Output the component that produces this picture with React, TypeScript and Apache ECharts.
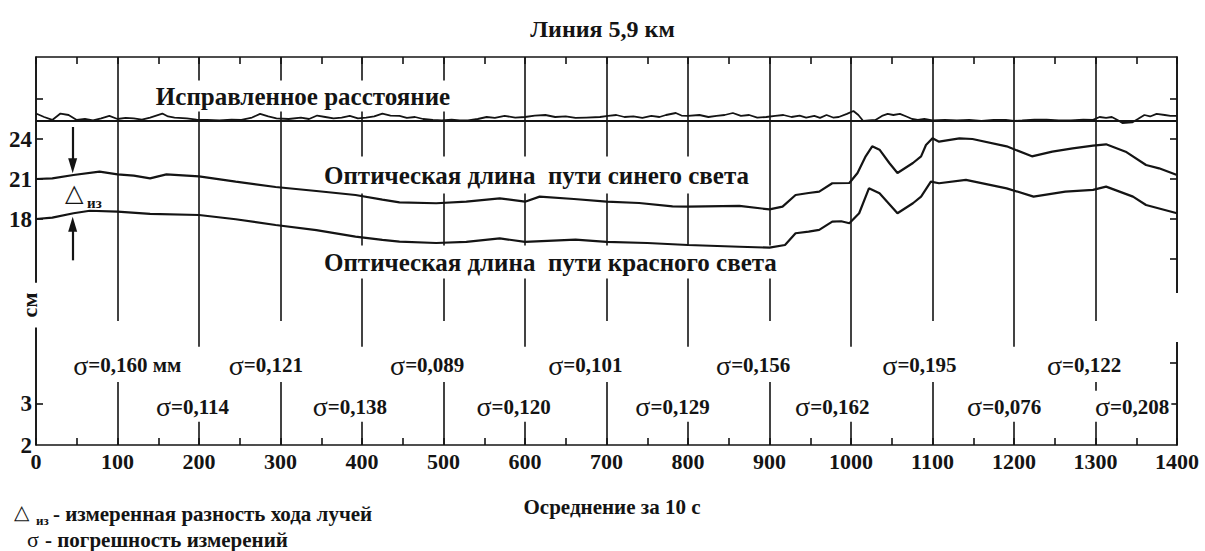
import { useEffect, useRef } from 'react';
import * as echarts from 'echarts';

const SERIF = '"Liberation Serif", "Times New Roman", serif';
const INK = '#141414';

// ---------- data ----------
const xMin = 0;
const xMax = 1400;
const xStep = 100;

const cmMin = 1.05;
const cmMax = 30.15;
const cmTicksLeft = [18, 21, 24, 27];
const cmLabelsLeft = [18, 21, 24];
const cmTicksRight = [15, 18, 21, 24, 27];

const sigmaMin = 2;
const sigmaMax = 11.46;
const sigmaTicksLeft = [3];
const sigmaLabelsLeft = [2, 3];
const sigmaTicksRight = [3, 4];

const baselineCm = 25.35;

const correctedDistance: [number, number][] = [
  [0, 25.91], [10, 25.65], [20, 25.43], [30, 25.91], [40, 25.8], [50, 25.43], [60, 25.5], [70, 25.39],
  [80, 25.54], [90, 25.73], [100, 25.5], [110, 25.58], [120, 25.54], [130, 25.46], [140, 25.61],
  [155, 25.91], [162, 25.69], [170, 25.61], [185, 25.54], [197, 25.46], [210, 25.43], [225, 25.39],
  [240, 25.46], [252, 25.43], [265, 25.61], [275, 25.88], [285, 25.69], [295, 25.54], [310, 25.5],
  [325, 25.61], [335, 25.5], [345, 25.76], [355, 25.65], [365, 25.54], [375, 25.61], [385, 25.73],
  [395, 25.54], [405, 25.61], [415, 25.69], [425, 25.91], [435, 25.76], [446, 25.73], [455, 25.58],
  [465, 25.65], [475, 25.5], [487, 25.43], [498, 25.39], [510, 25.46], [520, 25.39], [530, 25.39],
  [542, 25.5], [553, 25.65], [563, 25.58], [575, 25.73], [588, 25.61], [600, 25.65], [612, 25.76],
  [625, 25.8], [637, 25.65], [650, 25.69], [662, 25.58], [675, 25.61], [692, 25.65], [702, 25.73],
  [712, 25.8], [722, 25.65], [733, 25.69], [744, 25.58], [755, 25.73], [765, 25.65], [773, 25.8],
  [785, 25.95], [792, 25.76], [800, 25.73], [814, 25.8], [825, 25.65], [835, 25.73], [845, 25.8],
  [855, 25.95], [865, 25.73], [875, 25.8], [885, 25.61], [896, 25.65], [907, 25.73], [917, 25.8],
  [927, 25.65], [937, 25.76], [945, 25.61], [955, 25.73], [962, 25.58], [970, 25.8], [978, 25.61],
  [985, 25.65], [995, 25.88], [1003, 26.1], [1009, 25.8], [1015, 25.35], [1022, 25.39], [1030, 25.43],
  [1038, 25.73], [1045, 25.88], [1052, 25.8], [1060, 25.88], [1068, 25.69], [1075, 25.5], [1082, 25.43],
  [1090, 25.5], [1100, 25.39], [1115, 25.43], [1130, 25.39], [1145, 25.43], [1160, 25.35], [1175, 25.43],
  [1190, 25.43], [1200, 25.35], [1210, 25.39], [1225, 25.46], [1240, 25.46], [1255, 25.39], [1270, 25.39],
  [1285, 25.46], [1297, 25.43], [1305, 25.65], [1313, 25.58], [1320, 25.65], [1327, 25.43], [1333, 25.2],
  [1345, 25.24], [1352, 25.5], [1360, 25.8], [1367, 25.69], [1375, 25.88], [1385, 25.8], [1392, 25.73],
  [1400, 25.73],
];

const blueOptical: [number, number][] = [
  [0, 21.0], [20, 21.05], [46, 21.3], [78, 21.55], [100, 21.35], [120, 21.25], [140, 21.05], [160, 21.35],
  [200, 21.2], [245, 20.8], [294, 20.4], [344, 20.1], [392, 19.8], [425, 19.45], [446, 19.25], [491, 19.18],
  [528, 19.3], [569, 19.55], [600, 19.3], [618, 19.68], [660, 19.5], [700, 19.3], [740, 19.2], [781, 18.95],
  [800, 18.93], [863, 18.98], [900, 18.72], [916, 18.93], [932, 19.8], [948, 19.95], [961, 20.05],
  [977, 20.68], [998, 20.7], [1008, 21.45], [1018, 22.7], [1026, 23.45], [1035, 23.2], [1047, 22.2],
  [1057, 21.45], [1076, 22.2], [1086, 22.7], [1092, 23.55], [1100, 24.05], [1108, 23.8], [1133, 24.05],
  [1149, 24.0], [1191, 23.45], [1222, 22.7], [1247, 23.05], [1272, 23.3], [1297, 23.5], [1313, 23.6],
  [1337, 23.05], [1362, 22.05], [1378, 21.8], [1400, 21.3],
];

const redOptical: [number, number][] = [
  [0, 18.0], [20, 18.1], [46, 18.43], [66, 18.62], [100, 18.55], [140, 18.38], [200, 18.3], [245, 17.98],
  [294, 17.55], [344, 17.17], [392, 16.68], [425, 16.43], [446, 16.3], [491, 16.2], [528, 16.28],
  [569, 16.55], [600, 16.28], [662, 16.45], [700, 16.28], [750, 16.2], [800, 16.05], [863, 15.92],
  [900, 15.85], [919, 16.05], [932, 16.93], [948, 17.05], [961, 17.18], [977, 17.8], [988, 17.83],
  [998, 17.68], [1010, 18.43], [1022, 20.3], [1035, 19.93], [1057, 18.43], [1076, 19.18], [1086, 19.68],
  [1098, 20.8], [1108, 20.68], [1141, 20.93], [1191, 20.3], [1224, 19.68], [1263, 20.05], [1297, 20.18],
  [1313, 20.43], [1346, 19.68], [1362, 19.05], [1400, 18.43],
];

// Δ arrows (x on the time axis, y in cm)
const arrowX = 45;
const arrowDown = [24.9, 22.0];
const arrowUp = [14.9, 17.6];

// σ values, two rows
const sigmaUpperText = ['0,160 мм', '0,121', '0,089', '0,101', '0,156', '0,195', '0,122'];
const sigmaUpperX = [112, 282, 480, 674, 880, 1084, 1286];
const sigmaLowerText = ['0,114', '0,138', '0,120', '0,129', '0,162', '0,076', '0,208'];
const sigmaLowerX = [192, 385, 586, 781, 977, 1188, 1345];

// ---------- component ----------
export default function App() {
  const ref = useRef<HTMLDivElement>(null);

  useEffect(() => {
    document.body.style.margin = '0';
    const chart = echarts.init(ref.current!, undefined, { renderer: 'svg' });

    const axisLabelFont = { fontFamily: SERIF, fontWeight: 'bold' as const, color: INK };
    const line = { color: INK, width: 1.6 };

    const sigmaRich = {
      s: { fontFamily: SERIF, fontSize: 28, fontWeight: 'normal' as const, color: INK },
      v: { fontFamily: SERIF, fontSize: 21, fontWeight: 'bold' as const, color: INK },
    };

    const rowUpperY = 3.95;
    const rowLowerY = 2.93;

    const sigmaLabelBase = {
      show: true,
      position: 'inside',
      formatter: (p: any) => `{s|σ}{v|=${p.name}}`,
      rich: sigmaRich,
      backgroundColor: '#ffffff',
      opacity: 1,
    };

    const option: any = {
      animation: false,
      backgroundColor: '#ffffff',
      textStyle: { fontFamily: SERIF },
      title: {
        text: 'Линия 5,9 км',
        left: 'center',
        top: 12,
        textStyle: { fontFamily: SERIF, fontSize: 24, fontWeight: 'bold', color: INK },
      },
      grid: { left: 36, right: 28, top: 57, bottom: 106, containLabel: false },
      xAxis: [
        {
          type: 'value',
          position: 'bottom',
          min: xMin,
          max: xMax,
          interval: xStep,
          axisLine: { show: true, lineStyle: line },
          axisTick: { show: true, inside: true, length: 7, lineStyle: line },
          minorTick: { show: true, splitNumber: 2, length: 7, lineStyle: line },
          axisLabel: { ...axisLabelFont, fontSize: 22, margin: 5, formatter: (v: number) => String(v) },
          splitLine: { show: true, lineStyle: { color: INK, width: 1.6 } },
        },
        {
          type: 'value',
          position: 'top',
          min: xMin,
          max: xMax,
          interval: xStep,
          axisLine: { show: true, lineStyle: line },
          axisTick: { show: true, inside: true, length: 7, lineStyle: line },
          minorTick: { show: true, splitNumber: 2, length: 7, lineStyle: line },
          axisLabel: { show: false },
          splitLine: { show: false },
        },
      ],
      yAxis: [
        {
          type: 'value',
          position: 'left',
          min: cmMin,
          max: cmMax,
          axisLine: { show: true, lineStyle: line },
          axisTick: { show: true, inside: true, length: 7, lineStyle: line, customValues: cmTicksLeft },
          axisLabel: { ...axisLabelFont, fontSize: 23, margin: 4, customValues: cmLabelsLeft },
          splitLine: { show: false },
        },
        {
          type: 'value',
          position: 'left',
          min: sigmaMin,
          max: sigmaMax,
          axisLine: { show: false },
          axisTick: { show: true, inside: true, length: 7, lineStyle: line, customValues: sigmaTicksLeft },
          axisLabel: { ...axisLabelFont, fontSize: 23, margin: 4, customValues: sigmaLabelsLeft },
          splitLine: { show: false },
        },
        {
          type: 'value',
          position: 'right',
          min: cmMin,
          max: cmMax,
          axisLine: { show: true, lineStyle: line },
          axisTick: { show: true, inside: true, length: 7, lineStyle: line, customValues: cmTicksRight },
          axisLabel: { show: false },
          splitLine: { show: false },
        },
        {
          type: 'value',
          position: 'right',
          min: sigmaMin,
          max: sigmaMax,
          axisLine: { show: false },
          axisTick: { show: true, inside: true, length: 7, lineStyle: line, customValues: sigmaTicksRight },
          axisLabel: { show: false },
          splitLine: { show: false },
        },
      ],
      series: [
        {
          name: 'Исправленное расстояние',
          type: 'line',
          yAxisIndex: 0,
          data: correctedDistance,
          symbol: 'none',
          z: 5,
          lineStyle: { color: INK, width: 1.8 },
          markLine: {
            silent: true,
            symbol: 'none',
            label: { show: false },
            lineStyle: { color: INK, width: 2, type: 'solid' },
            data: [{ yAxis: baselineCm }],
          },
        },
        {
          name: 'Оптическая длина пути синего света',
          type: 'line',
          yAxisIndex: 0,
          data: blueOptical,
          symbol: 'none',
          z: 5,
          lineStyle: { color: INK, width: 2.2 },
          markLine: {
            silent: true,
            symbol: ['none', 'triangle'],
            symbolSize: [9, 15],
            label: { show: false },
            lineStyle: { color: INK, width: 2.2, type: 'solid' },
            itemStyle: { color: INK },
            data: [[{ coord: [arrowX, arrowDown[0]] }, { coord: [arrowX, arrowDown[1]] }]],
          },
        },
        {
          name: 'Оптическая длина пути красного света',
          type: 'line',
          yAxisIndex: 0,
          data: redOptical,
          symbol: 'none',
          z: 5,
          lineStyle: { color: INK, width: 2.2 },
          markLine: {
            silent: true,
            symbol: ['none', 'triangle'],
            symbolSize: [9, 15],
            label: { show: false },
            lineStyle: { color: INK, width: 2.2, type: 'solid' },
            itemStyle: { color: INK },
            data: [[{ coord: [arrowX, arrowUp[0]] }, { coord: [arrowX, arrowUp[1]] }]],
          },
        },
        {
          name: 'σ нижний ряд',
          type: 'scatter',
          yAxisIndex: 1,
          z: 3,
          symbolSize: 1,
          itemStyle: { color: 'rgba(0,0,0,0)', opacity: 1 },
          emphasis: { disabled: true },
          data: sigmaLowerX.map((x, i) => ({
            value: [x, rowLowerY],
            name: sigmaLowerText[i],
            label: i === sigmaLowerX.length - 1 ? { padding: [2, 2, 1, 2], offset: [0, -0.5] } : undefined,
          })),
          label: { ...sigmaLabelBase, padding: [46, 2, 1, 2], offset: [0, -22.5] },
        },
        {
          name: 'σ верхний ряд',
          type: 'scatter',
          yAxisIndex: 1,
          z: 4,
          symbolSize: 1,
          itemStyle: { color: 'rgba(0,0,0,0)', opacity: 1 },
          emphasis: { disabled: true },
          data: sigmaUpperX.map((x, i) => ({ value: [x, rowUpperY], name: sigmaUpperText[i] })),
          label: { ...sigmaLabelBase, padding: [30, 2, 3, 2], offset: [0, -13.5] },
        },
      ],
      graphic: [
        {
          type: 'text',
          x: 303,
          y: 96,
          z: 1,
          style: {
            text: 'Исправленное расстояние',
            font: `bold 25px ${SERIF}`,
            fill: INK,
            align: 'center',
            verticalAlign: 'middle',
            backgroundColor: '#ffffff',
            padding: [4, 3, 2, 3],
          },
        },
        {
          type: 'text',
          x: 320,
          y: 175,
          z: 1,
          style: {
            text: 'Оптическая длина  пути синего света',
            font: `bold 25px ${SERIF}`,
            fill: INK,
            align: 'left',
            verticalAlign: 'middle',
            backgroundColor: '#ffffff',
            padding: [6, 4, 6, 4],
          },
        },
        {
          type: 'text',
          x: 320,
          y: 262,
          z: 1,
          style: {
            text: 'Оптическая длина  пути красного света',
            font: `bold 25px ${SERIF}`,
            fill: INK,
            align: 'left',
            verticalAlign: 'middle',
            backgroundColor: '#ffffff',
            padding: [4, 4, 4, 4],
          },
        },
        {
          type: 'text',
          x: 29,
          y: 305,
          z: 1,
          rotation: Math.PI / 2,
          style: {
            text: 'см',
            font: `bold 22px ${SERIF}`,
            fill: INK,
            align: 'center',
            verticalAlign: 'middle',
            backgroundColor: '#ffffff',
            padding: [0, 10, 0, 10],
          },
        },
        {
          type: 'rect',
          z: 1,
          shape: { x: 1172, y: 293, width: 10, height: 49 },
          style: { fill: '#ffffff' },
        },
        {
          type: 'text',
          x: 65,
          y: 193,
          z: 6,
          style: { text: '△', font: `24px "DejaVu Sans"`, fill: INK, align: 'left', verticalAlign: 'middle' },
        },
        {
          type: 'text',
          x: 87,
          y: 203,
          z: 6,
          style: { text: 'из', font: `bold 15px ${SERIF}`, fill: INK, align: 'left', verticalAlign: 'middle' },
        },
        {
          type: 'text',
          x: 612,
          y: 507,
          style: { text: 'Осреднение за 10 с', font: `bold 21px ${SERIF}`, fill: INK, align: 'center', verticalAlign: 'middle' },
        },
        {
          type: 'text',
          x: 14,
          y: 512,
          style: { text: '△', font: `20px "DejaVu Sans"`, fill: INK, align: 'left', verticalAlign: 'middle' },
        },
        {
          type: 'text',
          x: 36,
          y: 520,
          style: { text: 'из', font: `bold 13px ${SERIF}`, fill: INK, align: 'left', verticalAlign: 'middle' },
        },
        {
          type: 'text',
          x: 53,
          y: 514,
          style: { text: '- измеренная разность хода лучей', font: `bold 21px ${SERIF}`, fill: INK, align: 'left', verticalAlign: 'middle' },
        },
        {
          type: 'text',
          x: 27,
          y: 539,
          style: { text: 'σ', font: `22px ${SERIF}`, fill: INK, align: 'left', verticalAlign: 'middle' },
        },
        {
          type: 'text',
          x: 45,
          y: 540,
          style: { text: '- погрешность измерений', font: `bold 21px ${SERIF}`, fill: INK, align: 'left', verticalAlign: 'middle' },
        },
      ],
    };

    chart.setOption(option);
    return () => chart.dispose();
  }, []);

  return (
    <div
      ref={ref}
      style={{ position: 'fixed', left: 0, top: 0, width: 1205, height: 551, background: '#fff' }}
    />
  );
}
